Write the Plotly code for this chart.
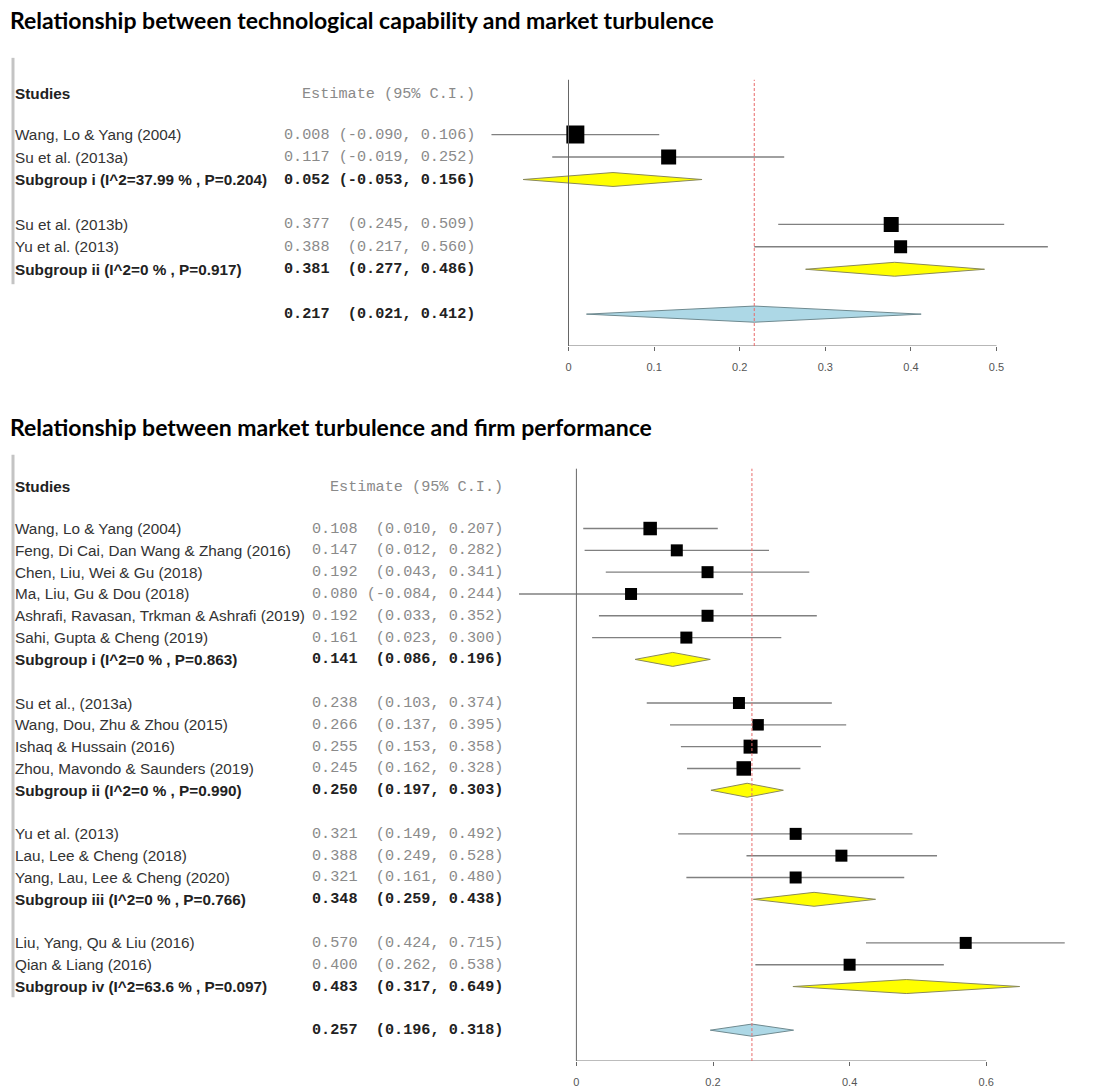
import plotly.graph_objects as go

W, H = 1105, 1088

# ---------------- Panel 1 data ----------------
p1_title = "Relationship between technological capability and market turbulence"
p1_studies = ["Wang, Lo & Yang (2004)", "Su et al. (2013a)", "Su et al. (2013b)", "Yu et al. (2013)"]
p1_group = [0, 0, 1, 1]
p1_est = [0.008, 0.117, 0.377, 0.388]
p1_lo = [-0.090, -0.019, 0.245, 0.217]
p1_hi = [0.106, 0.252, 0.509, 0.560]
p1_weight = [18, 15, 15, 13]
p1_sub_labels = ["Subgroup i (I^2=37.99 % , P=0.204)", "Subgroup ii (I^2=0 % , P=0.917)"]
p1_sub_est = [0.052, 0.381]
p1_sub_lo = [-0.053, 0.277]
p1_sub_hi = [0.156, 0.486]
p1_overall = [0.217, 0.021, 0.412]
p1_tickvals = [0, 0.1, 0.2, 0.3, 0.4, 0.5]
p1_ticktext = ["0", "0.1", "0.2", "0.3", "0.4", "0.5"]

# ---------------- Panel 2 data ----------------
p2_title = "Relationship between market turbulence and firm performance"
p2_studies = ["Wang, Lo & Yang (2004)", "Feng, Di Cai, Dan Wang & Zhang (2016)",
              "Chen, Liu, Wei & Gu (2018)", "Ma, Liu, Gu & Dou (2018)",
              "Ashrafi, Ravasan, Trkman & Ashrafi (2019)", "Sahi, Gupta & Cheng (2019)",
              "Su et al., (2013a)", "Wang, Dou, Zhu & Zhou (2015)", "Ishaq & Hussain (2016)",
              "Zhou, Mavondo & Saunders (2019)",
              "Yu et al. (2013)", "Lau, Lee & Cheng (2018)", "Yang, Lau, Lee & Cheng (2020)",
              "Liu, Yang, Qu & Liu (2016)", "Qian & Liang (2016)"]
p2_group = [0, 0, 0, 0, 0, 0, 1, 1, 1, 1, 2, 2, 2, 3, 3]
p2_est = [0.108, 0.147, 0.192, 0.080, 0.192, 0.161, 0.238, 0.266, 0.255, 0.245,
          0.321, 0.388, 0.321, 0.570, 0.400]
p2_lo = [0.010, 0.012, 0.043, -0.084, 0.033, 0.023, 0.103, 0.137, 0.153, 0.162,
         0.149, 0.249, 0.161, 0.424, 0.262]
p2_hi = [0.207, 0.282, 0.341, 0.244, 0.352, 0.300, 0.374, 0.395, 0.358, 0.328,
         0.492, 0.528, 0.480, 0.715, 0.538]
p2_weight = [13.5, 12, 12, 12, 12, 12, 12, 11.5, 14, 14.5, 12, 12, 12, 12, 12]
p2_sub_labels = ["Subgroup i (I^2=0 % , P=0.863)", "Subgroup ii (I^2=0 % , P=0.990)",
                 "Subgroup iii (I^2=0 % , P=0.766)", "Subgroup iv (I^2=63.6 % , P=0.097)"]
p2_sub_est = [0.141, 0.250, 0.348, 0.483]
p2_sub_lo = [0.086, 0.197, 0.259, 0.317]
p2_sub_hi = [0.196, 0.303, 0.438, 0.649]
p2_overall = [0.257, 0.196, 0.318]
p2_tickvals = [0, 0.2, 0.4, 0.6]
p2_ticktext = ["0", "0.2", "0.4", "0.6"]

NAME_FONT = "Liberation Sans, Arial, sans-serif"
MONO_FONT = "Liberation Mono, Courier New, monospace"
TITLE_FONT = "Lato, Open Sans, sans-serif"
NAME_SIZE = 15.3
MONO_SIZE = 15.2


def fmt(e, lo, hi):
    s = f"{e:.3f} " + f"({lo:.3f},".rjust(8) + f" {hi:.3f})"
    return s.replace(" ", "\u00a0")


fig = go.Figure()
annotations = []
shapes = []

panels = [
    dict(title=p1_title, studies=p1_studies, group=p1_group, est=p1_est, lo=p1_lo, hi=p1_hi,
         weight=p1_weight, sub_labels=p1_sub_labels, sub_est=p1_sub_est, sub_lo=p1_sub_lo,
         sub_hi=p1_sub_hi, overall=p1_overall, tickvals=p1_tickvals, ticktext=p1_ticktext,
         # geometry (pixels)
         title_y=20, row1_px=135, row_px=22.5, header_px=94, top_px=60, axis_px=347,
         vtop_px=80, zero_px=568.5, unit_px=856, est_right=477, bar=(58, 285),
         dh_sub=0.31, dh_all=0.36),
    dict(title=p2_title, studies=p2_studies, group=p2_group, est=p2_est, lo=p2_lo, hi=p2_hi,
         weight=p2_weight, sub_labels=p2_sub_labels, sub_est=p2_sub_est, sub_lo=p2_sub_lo,
         sub_hi=p2_sub_hi, overall=p2_overall, tickvals=p2_tickvals, ticktext=p2_ticktext,
         title_y=428, row1_px=530, row_px=21.87, header_px=488, top_px=450, axis_px=1064,
         vtop_px=470, zero_px=576.4, unit_px=683, est_right=505, bar=(456, 1000),
         dh_sub=0.32, dh_all=0.28),
]

X_LEFT, X_RIGHT = 480, 1100

for k, P in enumerate(panels):
    sfx = "" if k == 0 else str(k + 1)
    xa, ya = "x" + sfx, "y" + sfx

    def r_of(px, P=P):
        return 1 + (px - P["row1_px"]) / P["row_px"]

    # assign rows
    n_groups = len(P["sub_labels"])
    study_rows, sub_rows = [None] * len(P["studies"]), []
    r = 1
    for g in range(n_groups):
        for i, gg in enumerate(P["group"]):
            if gg == g:
                study_rows[i] = r
                r += 1
        sub_rows.append(r)
        r += 2
    overall_row = r

    # CI lines
    xs, ys = [], []
    for lo, hi, rr in zip(P["lo"], P["hi"], study_rows):
        xs += [lo, hi, None]
        ys += [rr, rr, None]
    fig.add_trace(go.Scatter(x=xs, y=ys, mode="lines", xaxis=xa, yaxis=ya,
                             line=dict(color="#808080", width=1.4), hoverinfo="skip"))
    # boxes
    fig.add_trace(go.Scatter(x=P["est"], y=study_rows, mode="markers", xaxis=xa, yaxis=ya,
                             marker=dict(symbol="square", size=P["weight"], color="#000000",
                                         opacity=1, line=dict(width=0))))
    # subgroup diamonds
    dx, dy = [], []
    for e, lo, hi, rr in zip(P["sub_est"], P["sub_lo"], P["sub_hi"], sub_rows):
        h = P["dh_sub"]
        dx += [lo, e, hi, e, lo, None]
        dy += [rr, rr - h, rr, rr + h, rr, None]
    fig.add_trace(go.Scatter(x=dx, y=dy, mode="lines", fill="toself", fillcolor="#ffff00",
                             xaxis=xa, yaxis=ya, line=dict(color="#8a8a5a", width=1)))
    # overall diamond
    e, lo, hi = P["overall"]
    h = P["dh_all"]
    fig.add_trace(go.Scatter(x=[lo, e, hi, e, lo], y=[overall_row, overall_row - h, overall_row,
                                                      overall_row + h, overall_row],
                             mode="lines", fill="toself", fillcolor="#add8e6",
                             xaxis=xa, yaxis=ya, line=dict(color="#6f8a90", width=1)))

    # axes
    rng_x = [(X_LEFT - P["zero_px"]) / P["unit_px"], (X_RIGHT - P["zero_px"]) / P["unit_px"]]
    fig.layout["xaxis" + sfx] = dict(
        domain=[X_LEFT / W, X_RIGHT / W], range=rng_x, anchor=ya,
        tickvals=P["tickvals"], ticktext=P["ticktext"], ticks="outside", ticklen=4,
        tickcolor="#666666", tickwidth=1, showgrid=False, zeroline=False, showline=False,
        tickfont=dict(family=NAME_FONT, size=11, color="#555555"), ticklabelstandoff=7,
        fixedrange=True)
    fig.layout["yaxis" + sfx] = dict(
        domain=[1 - P["axis_px"] / H, 1 - P["top_px"] / H],
        range=[r_of(P["axis_px"]), r_of(P["top_px"])], anchor=xa, visible=False,
        fixedrange=True)

    y_bottom = r_of(P["axis_px"])
    y_vtop = r_of(P["vtop_px"])
    # horizontal axis line (from 0 to last tick)
    shapes.append(dict(type="line", xref=xa, yref=ya, x0=0, x1=P["tickvals"][-1],
                       y0=y_bottom, y1=y_bottom, line=dict(color="#666666", width=1)))
    # vertical zero line
    shapes.append(dict(type="line", xref=xa, yref=ya, x0=0, x1=0, y0=y_bottom, y1=y_vtop,
                       line=dict(color="#666666", width=1)))
    # red dashed overall line
    shapes.append(dict(type="line", xref=xa, yref=ya, x0=e, x1=e, y0=y_bottom, y1=y_vtop,
                       line=dict(color="#e86a6a", width=1, dash="3px,2px")))
    # left grey bar
    shapes.append(dict(type="line", xref="paper", yref="paper", x0=13 / W, x1=13 / W,
                       y0=1 - P["bar"][0] / H, y1=1 - P["bar"][1] / H,
                       line=dict(color="#c4c4c4", width=3)))

    # titles
    annotations.append(dict(text="<b>" + P["title"] + "</b>", xref="paper", yref="paper",
                            x=8 / W, y=1 - P["title_y"] / H, xanchor="left", yanchor="middle",
                            showarrow=False, font=dict(family=TITLE_FONT, size=23, color="black")))
    # headers
    hr = r_of(P["header_px"])
    annotations.append(dict(text="<b>Studies</b>", xref="paper", yref=ya, x=13 / W, y=hr,
                            xanchor="left", yanchor="middle", showarrow=False,
                            font=dict(family=NAME_FONT, size=NAME_SIZE, color="#222222")))
    annotations.append(dict(text="Estimate (95% C.I.)".replace(" ", "\u00a0"), xref="paper",
                            yref=ya, x=P["est_right"] / W, y=hr, xanchor="right",
                            yanchor="middle", showarrow=False,
                            font=dict(family=MONO_FONT, size=MONO_SIZE, color="#8a8a8a")))
    # study rows
    for name, e_, lo_, hi_, rr in zip(P["studies"], P["est"], P["lo"], P["hi"], study_rows):
        annotations.append(dict(text=name, xref="paper", yref=ya, x=13 / W, y=rr,
                                xanchor="left", yanchor="middle", showarrow=False,
                                font=dict(family=NAME_FONT, size=NAME_SIZE, color="#333333")))
        annotations.append(dict(text=fmt(e_, lo_, hi_), xref="paper", yref=ya,
                                x=P["est_right"] / W, y=rr, xanchor="right", yanchor="middle",
                                showarrow=False,
                                font=dict(family=MONO_FONT, size=MONO_SIZE, color="#8a8a8a")))
    for lab, e_, lo_, hi_, rr in zip(P["sub_labels"], P["sub_est"], P["sub_lo"], P["sub_hi"],
                                     sub_rows):
        annotations.append(dict(text="<b>" + lab + "</b>", xref="paper", yref=ya, x=13 / W,
                                y=rr, xanchor="left", yanchor="middle", showarrow=False,
                                font=dict(family=NAME_FONT, size=NAME_SIZE, color="#222222")))
        annotations.append(dict(text="<b>" + fmt(e_, lo_, hi_) + "</b>", xref="paper", yref=ya,
                                x=P["est_right"] / W, y=rr, xanchor="right", yanchor="middle",
                                showarrow=False,
                                font=dict(family=MONO_FONT, size=MONO_SIZE, color="#222222")))
    annotations.append(dict(text="<b>" + fmt(*P["overall"]) + "</b>", xref="paper", yref=ya,
                            x=P["est_right"] / W, y=overall_row, xanchor="right",
                            yanchor="middle", showarrow=False,
                            font=dict(family=MONO_FONT, size=MONO_SIZE, color="#222222")))

fig.update_layout(width=W, height=H, margin=dict(l=0, r=0, t=0, b=0), showlegend=False,
                  plot_bgcolor="white", paper_bgcolor="white",
                  annotations=annotations, shapes=shapes)

fig.write_html("out.html", config={"displayModeBar": False},
               post_script="document.body.style.margin='0px';")
